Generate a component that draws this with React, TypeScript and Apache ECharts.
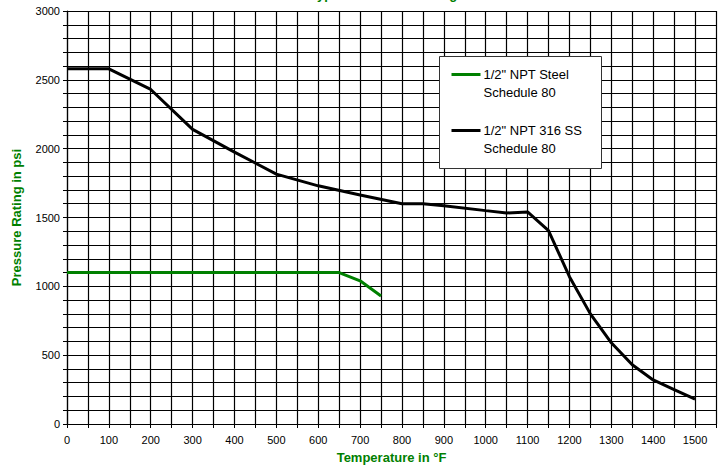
import React, { useEffect, useRef } from "react";
import * as echarts from "echarts";

const steelTemps = [0, 100, 200, 300, 400, 500, 600, 650, 700, 750];
const steelPressure = [1100, 1100, 1100, 1100, 1100, 1100, 1100, 1100, 1040, 930];

const ssTemps = [0, 100, 200, 300, 400, 500, 600, 700, 800, 850, 900, 1000, 1050, 1100, 1150, 1200, 1250, 1300, 1350, 1400, 1450, 1500];
const ssPressure = [2580, 2580, 2430, 2140, 1975, 1815, 1730, 1663, 1600, 1600, 1585, 1550, 1533, 1540, 1405, 1070, 800, 590, 430, 320, 250, 180];

const seriesNames = ['1/2" NPT Steel', '1/2" NPT 316 SS'];
const seriesSub = ["Schedule 80", "Schedule 80"];
const titleText = "Typical Pressure Ratings";
const xName = "Temperature in °F";
const yName = "Pressure Rating in psi";

const GREEN = "#008000";
const FONT = "Liberation Sans, Arial, sans-serif";

export default function App() {
  const ref = useRef<HTMLDivElement>(null);
  useEffect(() => {
    if (!ref.current) return;
    const chart = echarts.init(ref.current, null, { renderer: "svg" });
    const gridLine = { show: true, lineStyle: { color: "#000", width: 1.2 } };
    const Z = 100;
    chart.setOption({
      animation: false,
      textStyle: { fontFamily: FONT },
      grid: { left: 67, right: 7, top: 11, bottom: 40, containLabel: false },
      xAxis: {
        type: "value",
        min: 0,
        max: 1550,
        interval: 50,
        name: xName,
        nameLocation: "middle",
        nameGap: 27,
        nameTextStyle: { color: GREEN, fontSize: 13, fontWeight: "bold", fontFamily: FONT },
        axisLine: { show: true, lineStyle: { color: "#000", width: 1.2 } },
        axisTick: { show: true, length: 4, lineStyle: { color: "#000" } },
        axisLabel: {
          interval: 0,
          color: "#000",
          fontSize: 11,
          margin: 10,
          fontFamily: FONT,
          formatter: (v: number) => (v % 100 === 0 && v <= 1500 ? String(v) : ""),
        },
        splitLine: gridLine,
      },
      yAxis: {
        type: "value",
        min: 0,
        max: 3000,
        interval: 100,
        name: yName,
        nameLocation: "middle",
        nameRotate: 90,
        nameGap: 44,
        nameTextStyle: { color: GREEN, fontSize: 13, fontWeight: "bold", fontFamily: FONT },
        axisLine: { show: true, lineStyle: { color: "#000", width: 1.2 } },
        axisTick: { show: true, length: 4, lineStyle: { color: "#000" } },
        axisLabel: {
          interval: 0,
          color: "#000",
          fontSize: 11,
          margin: 7,
          fontFamily: FONT,
          formatter: (v: number) => (v % 500 === 0 ? String(v) : ""),
        },
        splitLine: gridLine,
      },
      series: [
        {
          name: seriesNames[0],
          type: "line",
          data: steelTemps.map((t, i) => [t, steelPressure[i]]),
          showSymbol: false,
          lineStyle: { color: GREEN, width: 3 },
          itemStyle: { color: GREEN },
          z: 5,
        },
        {
          name: seriesNames[1],
          type: "line",
          data: ssTemps.map((t, i) => [t, ssPressure[i]]),
          showSymbol: false,
          lineStyle: { color: "#000", width: 3 },
          itemStyle: { color: "#000" },
          z: 6,
        },
      ],
      graphic: [
        {
          type: "text",
          left: 310,
          top: -12,
          style: { text: titleText, fill: GREEN, font: `bold 13px ${FONT}` },
        },
        {
          type: "group",
          left: 439,
          top: 56,
          z: Z,
          children: [
            {
              type: "rect",
              z: Z,
              shape: { x: 0, y: 0, width: 162, height: 112 },
              style: { fill: "#ffffff", stroke: "#333", lineWidth: 1 },
            },
            {
              type: "line",
              z: Z + 1,
              shape: { x1: 12, y1: 18, x2: 41, y2: 18 },
              style: { stroke: GREEN, lineWidth: 3 },
            },
            {
              type: "text",
              z: Z + 1,
              x: 44,
              y: 18,
              style: { text: seriesNames[0], fill: "#000", font: `13px ${FONT}`, verticalAlign: "middle" },
            },
            {
              type: "text",
              z: Z + 1,
              x: 44,
              y: 36,
              style: { text: seriesSub[0], fill: "#000", font: `13px ${FONT}`, verticalAlign: "middle" },
            },
            {
              type: "line",
              z: Z + 1,
              shape: { x1: 12, y1: 74, x2: 41, y2: 74 },
              style: { stroke: "#000", lineWidth: 3 },
            },
            {
              type: "text",
              z: Z + 1,
              x: 44,
              y: 74,
              style: { text: seriesNames[1], fill: "#000", font: `13px ${FONT}`, verticalAlign: "middle" },
            },
            {
              type: "text",
              z: Z + 1,
              x: 44,
              y: 92,
              style: { text: seriesSub[1], fill: "#000", font: `13px ${FONT}`, verticalAlign: "middle" },
            },
          ],
        },
      ],
    });
    return () => chart.dispose();
  }, []);
  return <div ref={ref} style={{ width: 723, height: 469, position: "absolute", left: 0, top: 0 }} />;
}
